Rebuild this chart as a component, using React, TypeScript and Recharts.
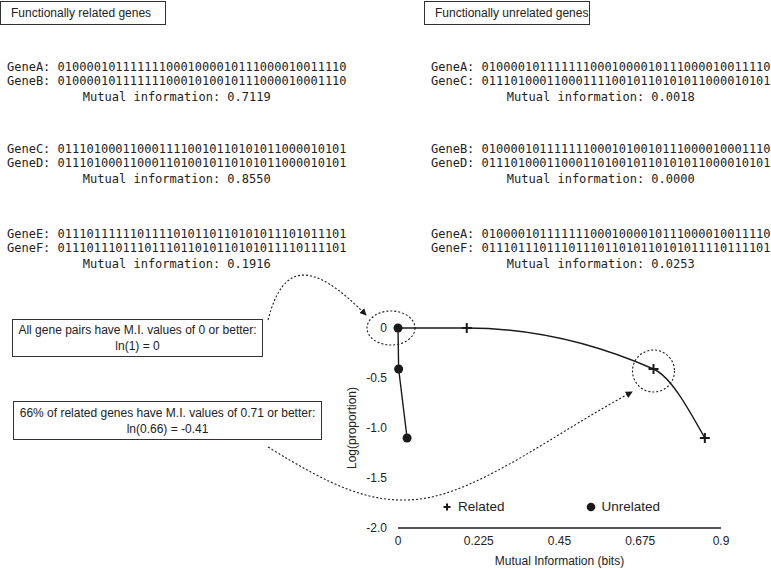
import React from 'react';
import { ComposedChart, Line, XAxis, YAxis, ReferenceDot, Legend } from 'recharts';

// MI values (x) and log proportion (y) for the two curves
const relatedMI = [0.1916, 0.7119, 0.855];
const relatedLogP = [0, -0.41, -1.1];
const unrelatedMI = [0, 0.0018, 0.0253];
const unrelatedLogP = [0, -0.41, -1.1];

const xTicks = [0, 0.225, 0.45, 0.675, 0.9];
const yTicks = [0, -0.5, -1, -1.5, -2];
const yTickLabels = ['0', '-0.5', '-1.0', '-1.5', '-2.0'];

// gene pair text blocks
const relatedPairNames = [['GeneA', 'GeneB'], ['GeneC', 'GeneD'], ['GeneE', 'GeneF']];
const relatedPairMI = ['0.7119', '0.8550', '0.1916'];
const unrelatedPairNames = [['GeneA', 'GeneC'], ['GeneB', 'GeneD'], ['GeneA', 'GeneF']];
const unrelatedPairMI = ['0.0018', '0.0000', '0.0253'];
const sequences: Record<string, string> = {
  GeneA: '0100001011111110001000010111000010011110',
  GeneB: '0100001011111110001010010111000010001110',
  GeneC: '0111010001100011110010110101011000010101',
  GeneD: '0111010001100011010010110101011000010101',
  GeneE: '0111011111101111010110110101011101011101',
  GeneF: '0111011101110111011010110101011110111101',
};
const rowTops = [61, 143, 228];

const INK = '#1a1a1a';
const SANS = '"Liberation Sans", Arial, Helvetica, sans-serif';
const MONO = '"DejaVu Sans Mono", monospace';

const relatedData = [
  { mi: unrelatedMI[0], logp: unrelatedLogP[0], start: true },
  ...relatedMI.map((mi, i) => ({ mi, logp: relatedLogP[i] })),
];
const unrelatedData = unrelatedMI.map((mi, i) => ({ mi, logp: unrelatedLogP[i] }));

const PlusDot = (props: any) => {
  const { cx, cy, payload, index } = props;
  if (payload?.start || cx == null) return <g key={`p-${index}`} />;
  return (
    <g key={`p-${index}`}>
      <line x1={cx - 5} x2={cx + 5} y1={cy} y2={cy} stroke={INK} strokeWidth={2} />
      <line x1={cx} x2={cx} y1={cy - 5} y2={cy + 5} stroke={INK} strokeWidth={2} />
    </g>
  );
};

const DotCircle = (props: any) => {
  const { cx, cy, index } = props;
  if (cx == null) return <g key={`c-${index}`} />;
  return <circle key={`c-${index}`} cx={cx} cy={cy} r={4.5} fill={INK} />;
};

function PairBlock({ names, mi, left, top }: { names: string[]; mi: string; left: number; top: number }) {
  return (
    <div style={{ position: 'absolute', left, top, fontFamily: MONO, fontSize: 12, color: '#222', whiteSpace: 'pre', lineHeight: '13.5px' }}>
      <div>{`${names[0]}: ${sequences[names[0]]}`}</div>
      <div>{`${names[1]}: ${sequences[names[1]]}`}</div>
      <div style={{ textAlign: 'center', marginTop: 3 }}>{`Mutual information: ${mi}`}</div>
    </div>
  );
}

function NoteBox({ left, top, width, height, lines }: { left: number; top: number; width: number; height: number; lines: string[] }) {
  return (
    <div
      style={{
        position: 'absolute', left, top, width, height, boxSizing: 'border-box',
        border: '1px solid #333', fontFamily: SANS, fontSize: 12, color: '#222',
        display: 'flex', flexDirection: 'column', justifyContent: 'center', alignItems: 'center', lineHeight: '16px',
      }}
    >
      {lines.map((l) => <div key={l}>{l}</div>)}
    </div>
  );
}

function TitleBox({ left, text }: { left: number; text: string }) {
  return (
    <div
      style={{
        position: 'absolute', left, top: 1, width: 166, height: 24, boxSizing: 'border-box',
        border: '1px solid #333', fontFamily: SANS, fontSize: 12, color: '#222',
        paddingLeft: 10, lineHeight: '22px',
      }}
    >
      {text}
    </div>
  );
}

const legendContent = () => (
  <div style={{ display: 'flex', alignItems: 'center', fontFamily: SANS, fontSize: 13.5, color: '#222' }}>
    <svg width={12} height={12}>
      <line x1={2.5} x2={9.5} y1={6} y2={6} stroke={INK} strokeWidth={2} />
      <line x1={6} x2={6} y1={2.5} y2={9.5} stroke={INK} strokeWidth={2} />
    </svg>
    <span style={{ marginLeft: 5 }}>Related</span>
    <svg width={12} height={12} style={{ marginLeft: 80 }}>
      <circle cx={6} cy={6} r={4.3} fill={INK} />
    </svg>
    <span style={{ marginLeft: 5 }}>Unrelated</span>
  </div>
);

export default function App() {
  return (
    <div style={{ position: 'absolute', left: 0, top: 0, width: 771, height: 568, background: '#fff', overflow: 'hidden' }}>
      <TitleBox left={0} text="Functionally related genes" />
      <TitleBox left={424} text="Functionally unrelated genes" />
      {relatedPairNames.map((n, i) => (
        <PairBlock key={`r${i}`} names={n} mi={relatedPairMI[i]} left={7} top={rowTops[i]} />
      ))}
      {unrelatedPairNames.map((n, i) => (
        <PairBlock key={`u${i}`} names={n} mi={unrelatedPairMI[i]} left={431} top={rowTops[i]} />
      ))}

      <div style={{ position: 'absolute', left: 0, top: 0 }}>
        <ComposedChart width={771} height={568} margin={{ top: 328, right: 50, bottom: 0, left: 338 }}>
          <XAxis
            type="number"
            dataKey="mi"
            domain={[0, 0.9]}
            ticks={xTicks}
            tickFormatter={(v: number) => String(v)}
            axisLine={{ stroke: INK, strokeWidth: 1.3 }}
            tickLine={false}
            tickMargin={2}
            height={40}
            tick={{ fill: '#222', fontSize: 12, fontFamily: SANS }}
            label={{ value: 'Mutual Information (bits)', position: 'insideBottom', offset: 3, fill: '#222', fontSize: 12, fontFamily: SANS }}
          />
          <YAxis
            type="number"
            dataKey="logp"
            domain={[-2, 0]}
            ticks={yTicks}
            tickFormatter={(v: number) => yTickLabels[yTicks.indexOf(v)] ?? String(v)}
            axisLine={false}
            tickLine={false}
            tickMargin={5}
            width={60}
            tick={{ fill: '#222', fontSize: 12, fontFamily: SANS }}
            label={{
              content: (p: any) => {
                const vb = p.viewBox;
                const cx = vb.x + 14;
                const cy = vb.y + vb.height / 2;
                return (
                  <text x={cx} y={cy} transform={`rotate(-90 ${cx} ${cy})`} textAnchor="middle" dominantBaseline="central" fill="#222" fontSize={12} fontFamily={SANS}>
                    Log(proportion)
                  </text>
                );
              },
            }}
          />
          <Legend verticalAlign="middle" layout="horizontal" wrapperStyle={{ left: 441, top: 499, width: 'auto' }} content={legendContent} />
          <Line
            data={relatedData}
            dataKey="logp"
            name="Related"
            type="monotoneX"
            stroke={INK}
            strokeWidth={1.4}
            dot={PlusDot}
            activeDot={false}
            isAnimationActive={false}
          />
          <Line
            data={unrelatedData}
            dataKey="logp"
            name="Unrelated"
            type="linear"
            stroke={INK}
            strokeWidth={1.4}
            dot={DotCircle}
            activeDot={false}
            isAnimationActive={false}
          />
          <ReferenceDot
            x={unrelatedMI[0]}
            y={unrelatedLogP[0]}
            ifOverflow="visible"
            shape={(p: any) => (
              <ellipse cx={p.cx - 7} cy={p.cy} rx={24} ry={17} fill="none" stroke={INK} strokeWidth={1.1} strokeDasharray="2 2" />
            )}
          />
          <ReferenceDot
            x={relatedMI[1]}
            y={relatedLogP[1]}
            ifOverflow="visible"
            shape={(p: any) => (
              <circle cx={p.cx} cy={p.cy + 2} r={21} fill="none" stroke={INK} strokeWidth={1.1} strokeDasharray="2 2" />
            )}
          />
        </ComposedChart>
      </div>

      <NoteBox left={12} top={319} width={251} height={38} lines={['All gene pairs have M.I. values of 0 or better:', 'ln(1) = 0']} />
      <NoteBox left={13} top={401} width={309} height={39} lines={['66% of related genes have M.I. values of 0.71 or better:', 'ln(0.66) = -0.41']} />

      <svg width={771} height={568} style={{ position: 'absolute', left: 0, top: 0, pointerEvents: 'none' }}>
        <defs>
          <marker id="ah" viewBox="0 0 8 8" refX={7} refY={4} markerWidth={7} markerHeight={7} markerUnits="userSpaceOnUse" orient="auto">
            <path d="M0,0 L8,4 L0,8 z" fill={INK} />
          </marker>
        </defs>
        <path d="M268,320 C283,262 312,260 366,315" fill="none" stroke={INK} strokeWidth={1.1} strokeDasharray="2 2" markerEnd="url(#ah)" />
        <path d="M268,447 C330,485 370,505 420,499 C480,492 560,430 632,392" fill="none" stroke={INK} strokeWidth={1.1} strokeDasharray="2 2" markerEnd="url(#ah)" />
      </svg>
    </div>
  );
}
